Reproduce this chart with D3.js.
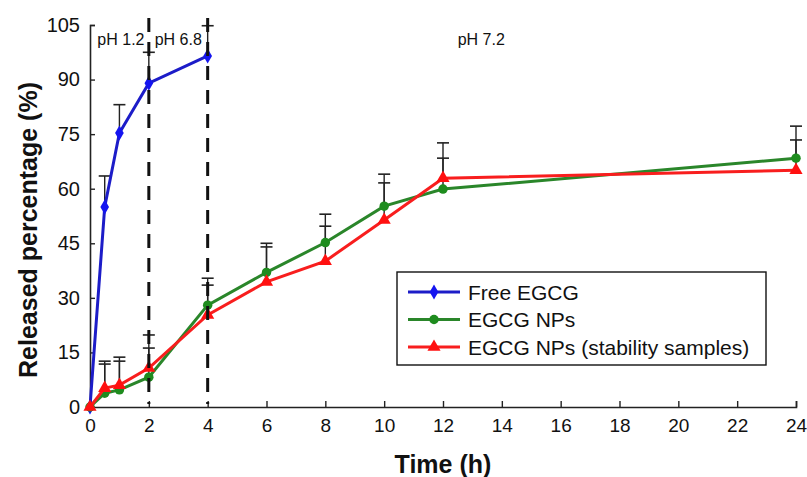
<!DOCTYPE html>
<html><head><meta charset="utf-8">
<script src="https://cdn.jsdelivr.net/npm/d3@7"></script>
<style>body{margin:0;background:#fff}svg{display:block}text{font-family:"Liberation Sans",Arial,sans-serif}</style>
</head><body><svg id="c" width="807" height="477"></svg>
<script>
const times = [0, 0.5, 1, 2, 4, 6, 8, 10, 12, 24];
const freeTimes = [0, 0.5, 1, 2, 4];
const freeEGCG = [0, 55, 75.3, 89, 96.5];
const freeErr = [0, 8.5, 7.8, 8.5, 8.3];
const egcgNPs = [0, 3.8, 4.7, 8.2, 28, 37, 45.2, 55.2, 59.9, 68.4];
const egcgNPsErr = [0, 8, 7.9, 8, 7.4, 8, 7.8, 8.8, 8.5, 8.8];
const stability = [0, 5.2, 6, 10.7, 25.3, 34.4, 40.1, 51.4, 62.9, 65.1];
const stabilityErr = [0, 7.4, 7.7, 9.1, 8.2, 9.6, 9.6, 10.2, 9.7, 8.3];
const xTicks = [0, 2, 4, 6, 8, 10, 12, 14, 16, 18, 20, 22, 24];
const yTicks = [0, 15, 30, 45, 60, 75, 90, 105];
const phBoundaries = [2, 4];
const phLabels = [{t: "pH 1.2", x: 0.25}, {t: "pH 6.8", x: 2.2}, {t: "pH 7.2", x: 12.5}];
const legendNames = ["Free EGCG", "EGCG NPs", "EGCG NPs (stability samples)"];

const svg = d3.select("#c");
const x = d3.scaleLinear().domain([0, 24]).range([90, 796]);
const y = d3.scaleLinear().domain([0, 105]).range([407, 25]);

const series = [
  {name: legendNames[0], xs: freeTimes, ys: freeEGCG, err: freeErr, line: "#1c1cc8", fill: "#1414f0", shape: d3.symbolDiamond, size: 65},
  {name: legendNames[1], xs: times, ys: egcgNPs, err: egcgNPsErr, line: "#2a862a", fill: "#1e8c1e", shape: d3.symbolCircle, size: 70},
  {name: legendNames[2], xs: times, ys: stability, err: stabilityErr, line: "#f81e1e", fill: "#ff1010", shape: d3.symbolTriangle, size: 75}
];

// axes
const gx = svg.append("g").attr("transform", "translate(0,407)")
  .call(d3.axisBottom(x).tickValues(xTicks).tickSize(-6).tickPadding(12).tickFormat(d3.format("d")));
const gy = svg.append("g").attr("transform", "translate(90,0)")
  .call(d3.axisLeft(y).tickValues(yTicks).tickSize(-5).tickPadding(10).tickFormat(d3.format("d")));
[gx, gy].forEach(g => {
  g.select(".domain").attr("stroke", "#222").attr("stroke-width", 1.6);
  g.selectAll(".tick line").attr("stroke", "#222").attr("stroke-width", 1.4);
  g.selectAll(".tick text").attr("fill", "#111").attr("font-size", 20)
    .attr("font-family", "'Liberation Sans',Arial,sans-serif");
});
gx.selectAll(".tick text").attr("font-size", 19);

// error bars
series.forEach(s => {
  const g = svg.append("g");
  s.xs.forEach((t, i) => {
    if (!s.err[i]) return;
    const top = s.ys[i] + s.err[i];
    g.append("line").attr("x1", x(t)).attr("x2", x(t)).attr("y1", y(s.ys[i])).attr("y2", y(top))
      .attr("stroke", "#222").attr("stroke-width", 1.4);
    g.append("line").attr("x1", x(t) - 6).attr("x2", x(t) + 6).attr("y1", y(top)).attr("y2", y(top))
      .attr("stroke", "#222").attr("stroke-width", 1.6);
  });
});

// lines and markers
const lineGen = d3.line().x(d => x(d[0])).y(d => y(d[1]));
series.forEach(s => {
  const pts = s.xs.map((t, i) => [t, s.ys[i]]);
  svg.append("path").datum(pts).attr("d", lineGen).attr("fill", "none")
    .attr("stroke", s.line).attr("stroke-width", 3);
  svg.append("g").selectAll("path").data(pts).join("path")
    .attr("transform", d => `translate(${x(d[0])},${y(d[1])})`)
    .attr("d", d3.symbol().type(s.shape).size(s.size)).attr("fill", s.fill);
});

// pH boundaries
phBoundaries.forEach(b => {
  svg.append("line").attr("x1", x(b)).attr("x2", x(b)).attr("y1", 18).attr("y2", 404)
    .attr("stroke", "#111").attr("stroke-width", 3).attr("stroke-dasharray", "14,10");
});
phLabels.forEach(p => {
  svg.append("text").attr("x", x(p.x)).attr("y", 45).attr("font-size", 16).attr("fill", "#111").text(p.t);
});

// axis titles
svg.append("text").attr("x", 443).attr("y", 473).attr("text-anchor", "middle")
  .attr("font-size", 25).attr("font-weight", "bold").attr("fill", "#111").text("Time (h)");
svg.append("text").attr("transform", "translate(37,230) rotate(-90)").attr("text-anchor", "middle")
  .attr("font-size", 25).attr("font-weight", "bold").attr("fill", "#111").text("Released percentage (%)");

// legend
const lg = svg.append("g").attr("transform", "translate(397,272)");
lg.append("rect").attr("width", 369).attr("height", 93).attr("fill", "#fff").attr("stroke", "#111").attr("stroke-width", 1.4);
series.forEach((s, i) => {
  const yy = 20 + i * 27.5;
  lg.append("line").attr("x1", 11).attr("x2", 63).attr("y1", yy).attr("y2", yy).attr("stroke", s.line).attr("stroke-width", 3);
  lg.append("path").attr("transform", `translate(37,${yy})`).attr("d", d3.symbol().type(s.shape).size(s.size)).attr("fill", s.fill);
  lg.append("text").attr("x", 71).attr("y", yy + 7.5).attr("font-size", 21).attr("fill", "#111").text(s.name);
});
</script></body></html>
